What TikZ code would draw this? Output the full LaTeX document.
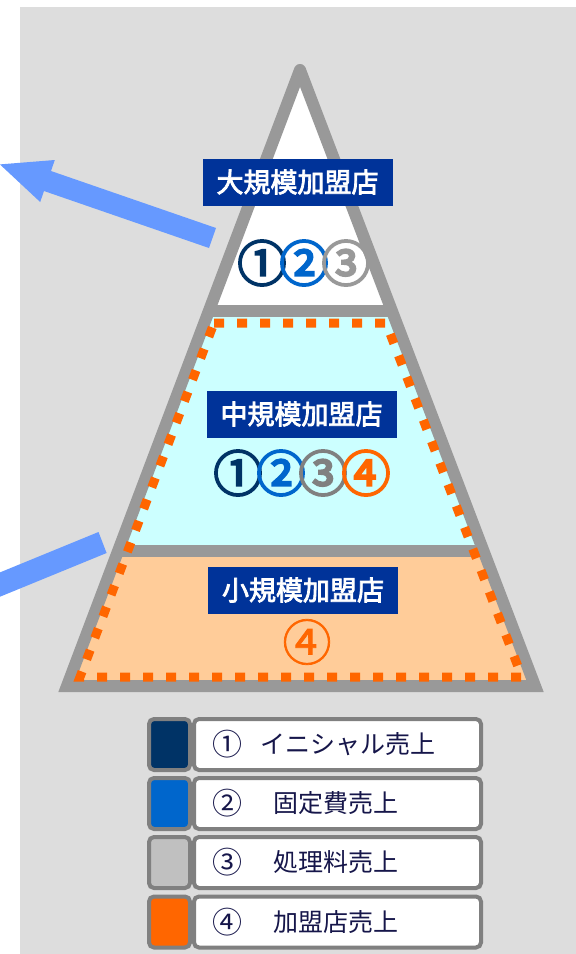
\documentclass[tikz,border=0pt]{standalone}
\usepackage{fontspec}
\newfontfamily\jp{Noto Sans CJK JP}
\newfontfamily\jpb[FakeBold=3]{Noto Sans CJK JP}
\newfontfamily\jpbb[FakeBold=4.5]{Noto Sans CJK JP}
\newfontfamily\jpm[FakeBold=1.5]{Noto Sans CJK JP}
\definecolor{bggray}{HTML}{DDDDDD}
\definecolor{edgegray}{HTML}{999999}
\definecolor{midcyan}{HTML}{CCFFFF}
\definecolor{lowpeach}{HTML}{FFCC99}
\definecolor{orng}{HTML}{FF6600}
\definecolor{lblblue}{HTML}{003399}
\definecolor{arrowblue}{HTML}{6699FF}
\definecolor{cone}{HTML}{003366}
\definecolor{ctwo}{HTML}{0066CC}
\definecolor{cthree}{HTML}{999999}
\definecolor{cthreem}{HTML}{808080}
\definecolor{cswthree}{HTML}{C0C0C0}
\definecolor{legborder}{HTML}{808080}
\definecolor{legtext}{HTML}{16164A}
\begin{document}
\begin{tikzpicture}[x=1pt,y=-1pt,
  lbl/.style={fill=lblblue, text=white, font=\jpb\fontsize{27}{30}\selectfont, minimum width=190pt, minimum height=47pt, inner sep=0pt},
  bignum/.style={font=\jpbb\fontsize{49}{52}\selectfont, inner sep=0pt},
  thinnum/.style={font=\jpm\fontsize{49}{52}\selectfont, inner sep=0pt},
  legbox/.style={draw=legborder, line width=4pt, fill=white, rounded corners=5pt, minimum height=51pt, inner sep=0pt},
  swatch/.style={draw=legborder, line width=4pt, rounded corners=5pt, minimum width=41pt, minimum height=51pt, inner sep=0pt},
  legnum/.style={font=\jp\fontsize{30}{32}\selectfont, text=legtext, inner sep=0pt},
  legtxt/.style={font=\jp\fontsize{25}{30}\selectfont, text=legtext, inner sep=0pt, anchor=west},
  edge/.style={draw=edgegray, line width=12pt},
  dots/.style={draw=orng, line width=9pt, dash pattern=on 10pt off 13pt}
]
\useasboundingbox (0,0) rectangle (576,954);
\fill[white] (0,0) rectangle (576,954);
\fill[bggray] (20,7) rectangle (576,954);

% arrows
\fill[arrowblue] (216,228) -- (51,171) -- (54.8,160) -- (-0.1,164.4) -- (40.2,202) -- (44,191) -- (209,248) -- cycle;
\fill[arrowblue] (98.5,532) -- (0,572.4) -- (0,596.7) -- (106.6,553) -- cycle;

% pyramid coordinates
\coordinate (apex) at (300,70);
\coordinate (bl) at (67,686);
\coordinate (br) at (535,686);
\coordinate (d1l) at (209,311);
\coordinate (d1r) at (391.8,311);
\coordinate (d2l) at (118.4,551);
\coordinate (d2r) at (483.2,551);

\fill[white] (apex) -- (d1r) -- (d1l) -- cycle;
\fill[midcyan] (d1l) -- (d1r) -- (d2r) -- (d2l) -- cycle;
\fill[lowpeach] (d2l) -- (d2r) -- (br) -- (bl) -- cycle;

\draw[edge] (d1l) -- (d1r);
\draw[edge] (d2l) -- (d2r);
\draw[edge, line join=miter, line cap=round] (apex) -- (br) -- (bl) -- (apex);

% orange dotted trapezoid
\coordinate (o1) at (214,323);
\coordinate (o2) at (386,323);
\coordinate (o3) at (522,677);
\coordinate (o4) at (80,677);
\draw[dots] (o1) -- (o2) -- (o3) -- (o4) -- cycle;

% labels
\node[lbl] (lbig) at (297.5,182) {大規模加盟店};
\node[lbl] (lmid) at (301.5,414) {中規模加盟店};
\node[lbl] (lsmall) at (303,590) {小規模加盟店};

% circled numbers
\node[bignum, text=cone] (a1) at (262,263) {①};
\node[bignum, text=ctwo] (a2) at (304,263) {②};
\node[bignum, text=cthree] (a3) at (346,263) {③};

\node[bignum, text=cone] (b1) at (238,473) {①};
\node[bignum, text=ctwo] (b2) at (281,473) {②};
\node[bignum, text=cthreem] (b3) at (323,473) {③};
\node[bignum, text=orng] (b4) at (366,473) {④};

\node[thinnum, text=orng] (c4) at (307,642) {④};

% legend
\node[legbox, minimum width=287pt] (box1) at (337.5,744.5) {};
\node[swatch, fill=cone] (sw1) at (169.5,744.5) {};
\node[legnum] (n1) at (227,744.5) {①};
\node[legtxt] (t1) at (260,744.5) {イニシャル売上};

\node[legbox, minimum width=287pt] (box2) at (337.5,803.5) {};
\node[swatch, fill=ctwo] (sw2) at (169.5,803.5) {};
\node[legnum] (n2) at (227,803.5) {②};
\node[legtxt] (t2) at (273,803.5) {固定費売上};

\node[legbox, minimum width=287pt] (box3) at (337.5,862.5) {};
\node[swatch, fill=cswthree] (sw3) at (169.5,862.5) {};
\node[legnum] (n3) at (227,862.5) {③};
\node[legtxt] (t3) at (273,862.5) {処理料売上};

\node[legbox, minimum width=287pt] (box4) at (337.5,922) {};
\node[swatch, fill=orng] (sw4) at (169.5,922) {};
\node[legnum] (n4) at (227,922) {④};
\node[legtxt] (t4) at (273,922) {加盟店売上};
\end{tikzpicture}
\end{document}
